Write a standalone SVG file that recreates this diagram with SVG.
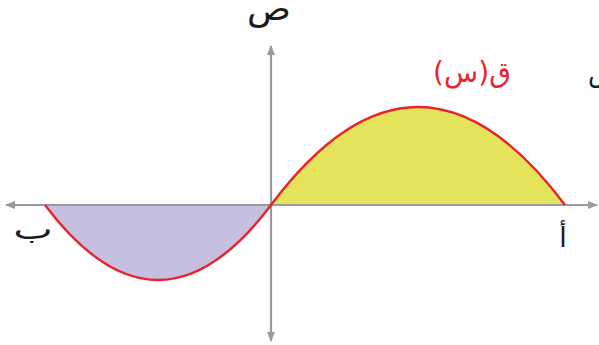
<svg xmlns="http://www.w3.org/2000/svg" width="599" height="345" viewBox="0 0 599 345">
<style>
.ax{stroke:#9a9a9c;stroke-width:2.2;fill:none}
.lbl{font-family:"DejaVu Sans",sans-serif;fill:#1a1a1a}
.fn{font-family:"DejaVu Sans",sans-serif;fill:#e8232b}
.curve{stroke:#e8232b;stroke-width:2.4;fill:none}
</style>
<defs>
<marker id="arr" viewBox="0 0 10 8" refX="9" refY="4" markerWidth="10" markerHeight="8" markerUnits="userSpaceOnUse" orient="auto">
<path d="M0,0 L10,4 L0,8 Z" fill="#9a9a9c"/>
</marker>
</defs>
<rect width="599" height="345" fill="#ffffff"/>
<g id="areas">
<path id="area-neg" d="M45,205 Q158,355 271,205 Z" fill="#c7bfdf"/>
<path id="area-pos" d="M271,205 Q418,9 565,205 Z" fill="#e3e45c"/>
</g>
<g id="connectors">
<line class="ax" x1="271" y1="205" x2="6" y2="205" marker-end="url(#arr)"/>
<line class="ax" x1="271" y1="205" x2="597" y2="205" marker-end="url(#arr)"/>
<line class="ax" x1="271" y1="205" x2="271" y2="46" marker-end="url(#arr)"/>
<line class="ax" x1="271" y1="205" x2="271" y2="341" marker-end="url(#arr)"/>
</g>
<g id="graph">
<path class="curve" d="M45,205 Q158,355 271,205 Q418,9 565,205"/>
</g>
<g id="label-y"><text class="lbl" transform="translate(269,20) scale(1.1,1)" font-size="33" text-anchor="middle" direction="rtl">ص</text></g>
<g id="label-f"><text class="fn" x="472" y="82" font-size="28" text-anchor="middle" direction="rtl">ق(س)</text></g>
<g id="label-x"><text class="lbl" x="588" y="82" font-size="26" text-anchor="start" direction="ltr">س</text></g>
<g id="label-b"><text class="lbl" transform="translate(33,239) scale(1.5,1)" font-size="28" text-anchor="middle" direction="rtl">ب</text></g>
<g id="label-a"><text class="lbl" x="563" y="247" font-size="27" text-anchor="middle" direction="rtl">أ</text></g>
</svg>
